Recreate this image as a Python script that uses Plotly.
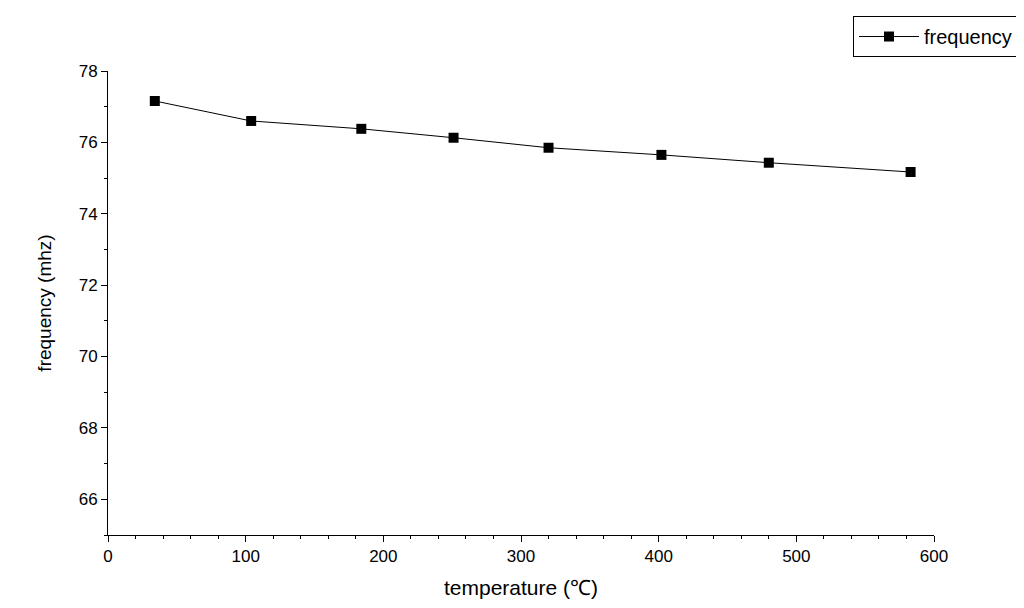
import plotly.graph_objects as go

temperature = [34, 104, 184, 251, 320, 402, 480, 583]
frequency = [77.16, 76.60, 76.38, 76.13, 75.85, 75.65, 75.43, 75.17]

fig = go.Figure()
fig.add_trace(go.Scatter(
    x=temperature, y=frequency, mode='lines+markers', name='frequency',
    line=dict(color='black', width=1),
    marker=dict(symbol='square', size=10, color='black'),
))

axis_common = dict(
    showgrid=False, zeroline=False, showline=True, linecolor='black', linewidth=1,
    ticks='outside', ticklen=6, tickcolor='black',
    minor=dict(ticks='outside', ticklen=3, tickcolor='black'),
    tickfont=dict(size=17, color='black'), mirror=False,
)
fig.update_xaxes(range=[0, 600], dtick=100, title=dict(text='temperature (℃)', font=dict(size=21), standoff=14), **axis_common)
fig.update_yaxes(range=[65, 78], tickvals=[66, 68, 70, 72, 74, 76, 78],
                 title=dict(text='frequency (mhz)', font=dict(size=19), standoff=22), **axis_common)

fig.update_layout(
    width=1024, height=608,
    margin=dict(l=100, r=98, t=63, b=81, autoexpand=False),
    plot_bgcolor='white', paper_bgcolor='white',
    font=dict(family='Liberation Sans, Arial', color='black'),
    legend=dict(x=1.1017, y=1.1185, xanchor='right', yanchor='top',
                bordercolor='black', borderwidth=1, font=dict(size=20),
                tracegroupgap=0, itemwidth=60),
    showlegend=True,
)

fig.write_html("out.html")
